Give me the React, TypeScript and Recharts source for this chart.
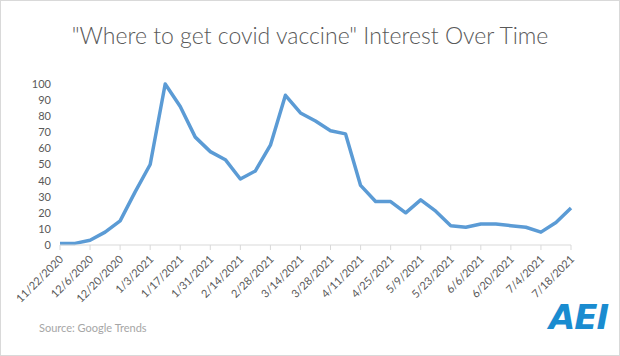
import { LineChart, Line, XAxis, YAxis } from 'recharts'

const weeks = [
  '11/22/2020', '11/29/2020', '12/6/2020', '12/13/2020', '12/20/2020', '12/27/2020',
  '1/3/2021', '1/10/2021', '1/17/2021', '1/24/2021', '1/31/2021', '2/7/2021',
  '2/14/2021', '2/21/2021', '2/28/2021', '3/7/2021', '3/14/2021', '3/21/2021',
  '3/28/2021', '4/4/2021', '4/11/2021', '4/18/2021', '4/25/2021', '5/2/2021',
  '5/9/2021', '5/16/2021', '5/23/2021', '5/30/2021', '6/6/2021', '6/13/2021',
  '6/20/2021', '6/27/2021', '7/4/2021', '7/11/2021', '7/18/2021',
]

const interest = [
  1, 1, 3, 8, 15, 33, 50, 100, 86, 67, 58, 53,
  41, 46, 62, 93, 82, 77, 71, 69, 37, 27, 27, 20,
  28, 21, 12, 11, 13, 13, 12, 11, 8, 14, 23,
]

const yTicks = [0, 10, 20, 30, 40, 50, 60, 70, 80, 90, 100]

const data = weeks.map((week, i) => ({ week, value: interest[i] }))

const FONT = 'Lato, "Open Sans", sans-serif'
const GRAY = '#595959'

function DateTick({ x, y, payload }: any) {
  return (
    <text
      x={x + 4}
      y={y + 8}
      textAnchor="end"
      fontSize={11}
      fill={GRAY}
      fontFamily={FONT}
      transform={`rotate(-45, ${x + 4}, ${y + 8})`}
    >
      {payload.value}
    </text>
  )
}

export default function App() {
  return (
    <div
      style={{
        position: 'absolute',
        left: 0,
        top: 0,
        width: 620,
        height: 356,
        background: '#fff',
        boxSizing: 'border-box',
        border: '1px solid #d9d9d9',
        fontFamily: FONT,
      }}
    >
      <div
        style={{
          position: 'absolute',
          top: 20,
          left: 0,
          width: 618,
          textAlign: 'center',
          fontSize: 23,
          color: GRAY,
          fontWeight: 300,
        }}
      >
        "Where to get covid vaccine" Interest Over Time
      </div>
      <div style={{ position: 'absolute', left: 0, top: 0 }}>
        <LineChart width={618} height={354} data={data} margin={{ top: 83, right: 48, left: 0, bottom: 40 }}>
          <XAxis
            dataKey="week"
            interval={1}
            height={70}
            tick={<DateTick />}
            tickSize={5}
            stroke="#d9d9d9"
          />
          <YAxis
            domain={[0, 100]}
            ticks={yTicks}
            interval={0}
            width={59}
            axisLine={false}
            tickLine={false}
            tickMargin={3}
            tick={{ fill: GRAY, fontSize: 11, fontFamily: FONT }}
          />
          <Line
            type="linear"
            dataKey="value"
            stroke="#5b9bd5"
            strokeWidth={3.5}
            dot={false}
            strokeLinejoin="round"
            isAnimationActive={false}
          />
        </LineChart>
      </div>
      <div style={{ position: 'absolute', left: 38, top: 320, fontSize: 11, color: '#a6a6a6' }}>
        Source: Google Trends
      </div>
      <div
        style={{
          position: 'absolute',
          left: 548,
          top: 296,
          fontSize: 34,
          fontWeight: 900,
          fontStyle: 'italic',
          color: '#1a8cd0',
          letterSpacing: -1,
          fontFamily: '"DejaVu Sans", sans-serif',
        }}
      >
        AEI
      </div>
    </div>
  )
}
